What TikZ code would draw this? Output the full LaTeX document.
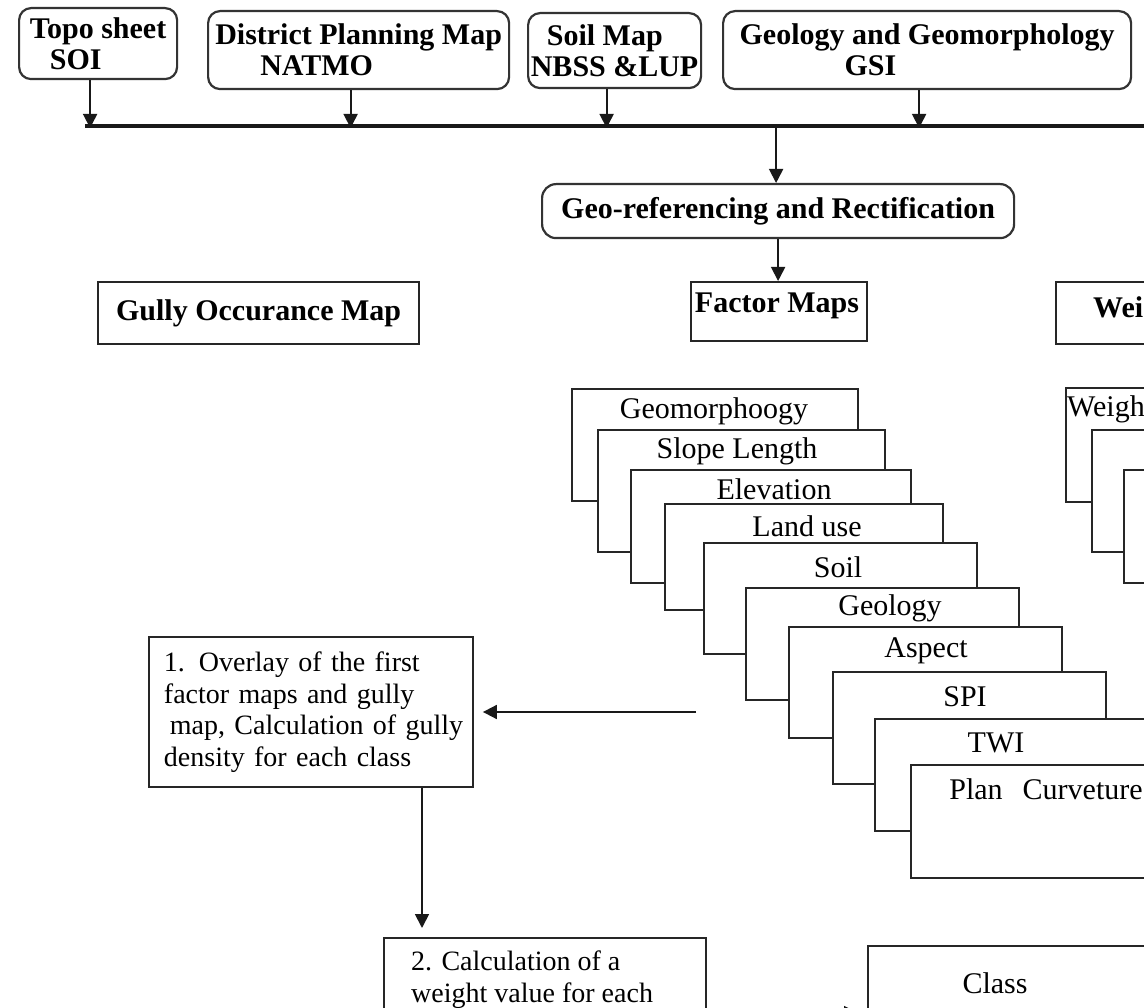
\documentclass[tikz,border=0pt]{standalone}
\usepackage{fontspec}
\setmainfont{Liberation Serif}
\usetikzlibrary{arrows.meta}
\newcommand{\bfnt}{\fontsize{30}{31}\selectfont\bfseries}
\newcommand{\rgnt}{\fontsize{28}{31.5}\selectfont}
\newcommand{\stnt}{\fontsize{30}{32}\selectfont}
\tikzset{
  srcbox/.style={draw=black!80, line width=2.2pt, rounded corners=12pt, font=\bfnt,
    align=left, anchor=north west, inner sep=0pt},
  hbox/.style={draw=black!85, line width=2.2pt, font=\bfnt, anchor=north west, inner sep=0pt},
  sbox/.style={draw=black!85, fill=white, line width=1.9pt, anchor=north west, inner sep=0pt},
  stxt/.style={font=\stnt, inner sep=0pt},
  arr/.style={draw=black!90, line width=1.8pt, -{Triangle[width=14pt,length=14pt]}},
}
\begin{document}
\begin{tikzpicture}[x=1pt,y=-1pt]
\useasboundingbox (0,0) rectangle (1144,1008);
\fill[white] (0,0) rectangle (1144,1008);
\clip (0,0) rectangle (1144,1008);

% source boxes
\node[srcbox, minimum width=158, minimum height=71] (topo) at (18,7)
  {Topo sheet\\\hspace*{20pt}SOI};
\node[srcbox, minimum width=301, minimum height=78] (dist) at (207,10)
  {District Planning Map\\\hspace*{45pt}NATMO};
\node[srcbox, minimum width=173, minimum height=75] (soil) at (527,12)
  {\hspace*{16pt}Soil Map\\NBSS \&LUP};
\node[srcbox, minimum width=408, minimum height=78] (geo) at (722,10)
  {Geology and Geomorphology\\\hspace*{105pt}GSI};

% bus line
\coordinate (busL) at (85,126);
\coordinate (busR) at (1150,126);
\draw[black!90, line width=3.6pt] (busL) -- (busR);

\foreach \n in {topo,dist,soil,geo}{
  \draw[arr] ([xshift=-8pt]\n.south) -- ([xshift=-8pt,yshift=-2pt]\n.south |- busL);
}

% georeferencing
\node[srcbox, rounded corners=14pt, minimum width=472, minimum height=54, align=center] (geor) at (541,183)
  {Geo-referencing and Rectification};
\draw[arr] ([xshift=-2pt]geor.north |- busL) -- ([xshift=-2pt]geor.north);

% second row
\node[hbox, minimum width=321, minimum height=62] (gully) at (97,281) {Gully Occurance Map};
\node[hbox, minimum width=176, minimum height=59] (fm) at (690,281) {};
\node[font=\bfnt, inner sep=0pt] (fmt) at (777,306) {Factor Maps};
\draw[arr] (geor.south) -- (geor.south |- fm.north);
\node[hbox, minimum width=200, minimum height=62] (wm) at (1055,281) {};
\node[font=\bfnt, inner sep=0pt, anchor=west] (wmt) at (1093,307) {Wei};

% factor maps stack
\node[sbox, minimum width=286, minimum height=112] (f1) at (571,388) {};
\node[stxt] (t1) at (714,411) {Geomorphoogy};
\node[sbox, minimum width=287, minimum height=122] (f2) at (597,429) {};
\node[stxt] (t2) at (737,451) {Slope Length};
\node[sbox, minimum width=280, minimum height=113] (f3) at (630,469) {};
\node[stxt] (t3) at (774,489) {Elevation};
\node[sbox, minimum width=278, minimum height=106] (f4) at (664,503) {};
\node[stxt] (t4) at (807,526) {Land use};
\node[sbox, minimum width=273, minimum height=111] (f5) at (703,542) {};
\node[stxt] (t5) at (838,567) {Soil};
\node[sbox, minimum width=273, minimum height=112] (f6) at (745,587) {};
\node[stxt] (t6) at (890,608) {Geology};
\node[sbox, minimum width=273, minimum height=111] (f7) at (788,626) {};
\node[stxt] (t7) at (926,651) {Aspect};
\node[sbox, minimum width=273, minimum height=112] (f8) at (832,671) {};
\node[stxt] (t8) at (965,697) {SPI};
\node[sbox, minimum width=300, minimum height=112] (f9) at (874,718) {};
\node[stxt] (t9) at (996,743) {TWI};
\node[sbox, minimum width=300, minimum height=113] (f10) at (910,764) {};
\node[stxt] (t10) at (1046,789) {Plan\hspace{20pt}Curveture};

% weights stack
\node[sbox, minimum width=286, minimum height=114] (w1) at (1065,387) {};
\node[stxt, anchor=west] (wt1) at (1067,409) {Weigh};
\node[sbox, minimum width=287, minimum height=122] (w2) at (1091,429) {};
\node[sbox, minimum width=280, minimum height=113] (w3) at (1123,469) {};

% step 1
\node[sbox, minimum width=324, minimum height=150, text width=312pt, inner xsep=6pt, align=left, font=\rgnt] (b1) at (148,636)
  {\hspace*{9pt}1. Overlay of the first\\\hspace*{9pt}factor maps and gully\\\hspace*{15pt}map, Calculation of gully\\\hspace*{9pt}density for each class};
\coordinate (fs) at (696,712);
\draw[arr, shorten >=9pt] (fs) -- (fs -| b1.east);

% step 2
\node[sbox, minimum width=322, minimum height=130] (b2) at (383,937) {};
\node[font=\rgnt, inner sep=0pt, anchor=north west, align=left] (b2t) at (411,951)
  {2. Calculation of a\\weight value for each};
\draw[arr, shorten >=9pt] (b1.south -| 422,0) -- (b2.north -| 422,0);

% class box
\node[sbox, minimum width=300, minimum height=120] (b3) at (867,945) {};
\node[stxt] (b3t) at (995,983) {Class};
\draw[arr, shorten >=9pt] (b2.east |- 0,1013) -- (b3.west |- 0,1013);
\end{tikzpicture}
\end{document}
